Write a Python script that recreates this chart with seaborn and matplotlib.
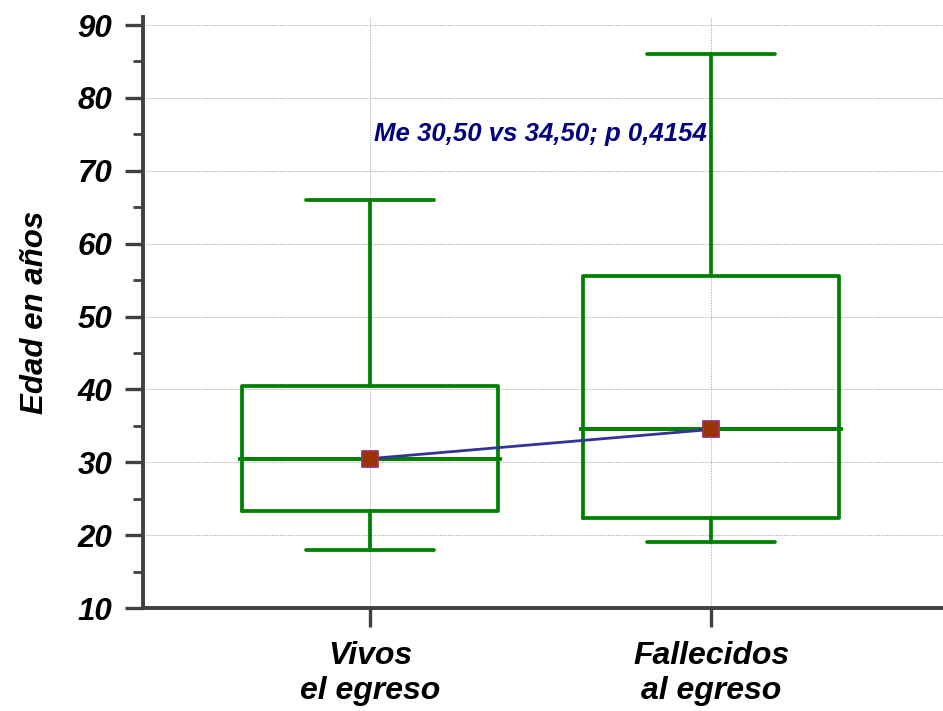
import matplotlib
matplotlib.use("Agg")
import matplotlib.pyplot as plt
import seaborn as sns
import pandas as pd
from matplotlib.ticker import MultipleLocator

categories = ["Vivos\nel egreso", "Fallecidos\nal egreso"]
whisker_low = [18.0, 19.0]
q1 = [23.3, 22.3]
medians = [30.5, 34.5]
q3 = [40.5, 55.5]
whisker_high = [66.0, 86.0]
annotation = "Me 30,50 vs 34,50; p 0,4154"
y_label = "Edad en años"

sns.set_theme(style="white")
plt.rcParams['font.family'] = ['Liberation Sans', 'DejaVu Sans']

green = "#008000"
spine_col = "#404040"
lw = 2.7

fig = plt.figure(figsize=(9.43, 7.11), dpi=100)
ax = fig.add_axes([143/943, 103/711, 1 - 143/943, (608-17)/711])

positions = list(range(len(categories)))
stats = []
for i in positions:
    stats.append(dict(med=medians[i], q1=q1[i], q3=q3[i],
                      whislo=whisker_low[i], whishi=whisker_high[i],
                      fliers=[], label=categories[i]))

ax.bxp(stats, positions=positions, widths=0.75, capwidths=0.375,
       showfliers=False, patch_artist=False,
       boxprops=dict(color=green, linewidth=lw),
       whiskerprops=dict(color=green, linewidth=lw),
       capprops=dict(color=green, linewidth=lw),
       medianprops=dict(color=green, linewidth=lw), zorder=3)

# slightly extended median lines
ax.hlines(medians, [p - 0.387 for p in positions], [p + 0.387 for p in positions],
          colors=green, linewidth=lw, zorder=3)

df = pd.DataFrame({"pos": positions, "med": medians})
sns.lineplot(data=df, x="pos", y="med", ax=ax, color="#333399", linewidth=2.0,
             zorder=4, legend=False)
sns.scatterplot(data=df, x="pos", y="med", ax=ax, marker="s", s=120,
                color="#993300", edgecolor="#993366", linewidth=1.3, zorder=5,
                legend=False)

ax.set_xlim(-0.666, 1.68)
ax.set_ylim(10, 91.1)
ax.set_xticks(positions)
ax.set_xticklabels(categories)
ax.yaxis.set_major_locator(MultipleLocator(10))
ax.yaxis.set_minor_locator(MultipleLocator(5))

ax.grid(True, which="major", color="#b8b8b8", linestyle=(0, (1.5, 1.2)), linewidth=0.7)
ax.set_axisbelow(True)

for s in ["top", "right"]:
    ax.spines[s].set_visible(False)
for s in ["left", "bottom"]:
    ax.spines[s].set_color(spine_col)
    ax.spines[s].set_linewidth(2.8)

ax.tick_params(axis="y", which="major", direction="out", length=13, width=2.4,
               color=spine_col, left=True, labelsize=22.5, pad=9)
ax.tick_params(axis="y", which="minor", direction="out", length=7, width=2.0,
               color=spine_col, left=True)
ax.tick_params(axis="x", which="major", direction="out", length=14, width=2.4,
               color=spine_col, bottom=True, labelsize=23, pad=10)

for lab in ax.get_yticklabels() + ax.get_xticklabels():
    lab.set_fontweight("bold")
    lab.set_fontstyle("italic")
    lab.set_color("black")
for lab in ax.get_xticklabels():
    lab.set_linespacing(1.2)

ax.set_xlabel("")
ax.set_ylabel(y_label, fontsize=22.5, fontweight="bold", fontstyle="italic",
              color="black", labelpad=20)

ax.text(0.5, 75.0, annotation, ha="center", va="center", fontsize=18.5,
        fontweight="bold", fontstyle="italic", color="#000080", zorder=6)

fig.savefig("out.png", dpi=100)
